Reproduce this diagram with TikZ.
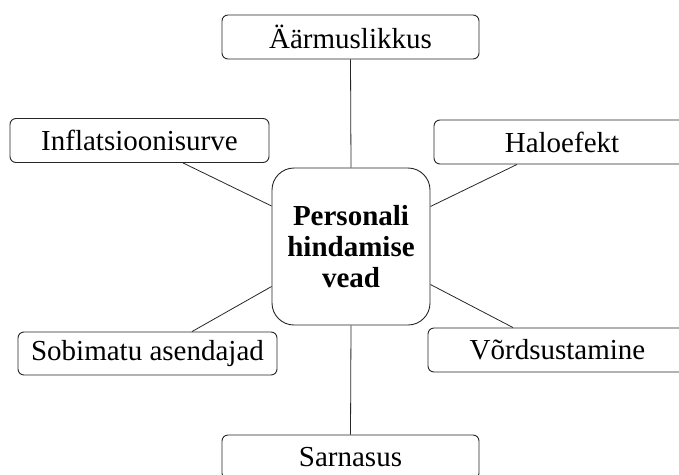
\documentclass[tikz,border=0pt]{standalone}
\usepackage{fontspec}
\setmainfont{Liberation Serif}
\begin{document}
\begin{tikzpicture}[x=1pt,y=-1pt,
  leaf/.style={draw=black!85, line width=0.9pt, rounded corners=6pt, minimum width=257pt, minimum height=44pt, inner sep=0pt, font=\fontsize{29}{33}\selectfont},
  hub/.style={draw=black!85, line width=0.9pt, rounded corners=22pt, minimum width=158pt, minimum height=157pt, inner sep=0pt, align=center, font=\fontsize{29}{31}\selectfont\bfseries},
  link/.style={draw=black!85, line width=0.8pt}]
\useasboundingbox (0,0) rectangle (679,474);
\clip (0,0) rectangle (679,474);
\node[hub] (c) at (351,246.5) {Personali\\hindamise\\vead};
\node[leaf] (top) at (350.5,37) {Äärmuslikkus};
\node[leaf, minimum width=259pt] (infl) at (139.5,140.5) {Inflatsioonisurve};
\node[leaf, minimum width=256pt] (halo) at (562,142) {Haloefekt};
\node[leaf, minimum width=259pt, minimum height=43pt] (sobi) at (147.5,353.5) {Sobimatu asendajad};
\node[leaf, minimum width=259pt] (vord) at (557.5,350) {Võrdsustamine};
\node[leaf] (sarn) at (350.5,457) {Sarnasus};
\draw[link] (top.south) -- (c.north);
\draw[link] (c.south) -- (sarn.north);
\draw[link] ([xshift=43.5pt]infl.south) -- ([yshift=40.5pt]c.west);
\draw[link] ([xshift=-45pt]halo.south) -- ([yshift=40pt]c.east);
\draw[link] ([xshift=44.5pt]sobi.north) -- ([yshift=-40pt]c.west);
\draw[link] ([xshift=-44.5pt]vord.north) -- ([yshift=-38pt]c.east);
\end{tikzpicture}
\end{document}
